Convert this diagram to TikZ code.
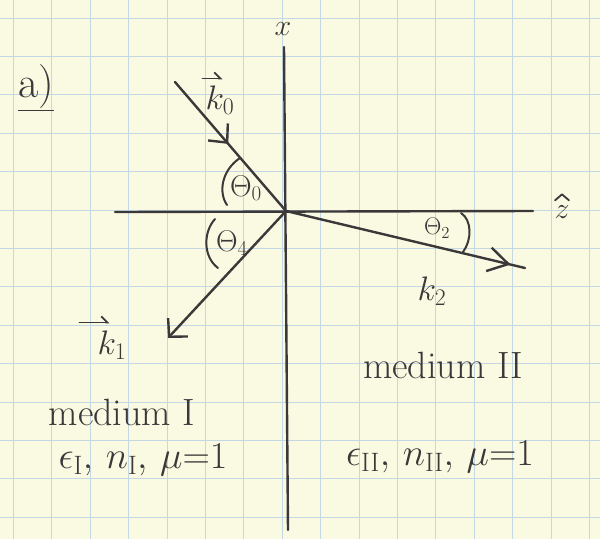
\RequirePackage{fix-cm}
\documentclass[tikz,border=0pt]{standalone}
\usetikzlibrary{arrows.meta,decorations.markings}
\definecolor{paper}{HTML}{FAFAE2}
\definecolor{gridc}{HTML}{C4D7E4}
\definecolor{ink}{HTML}{3A3838}
\begin{document}
\begin{tikzpicture}[x=1pt,y=-1pt,
  axisline/.style={ink, line width=2.4pt, line cap=round},
  ray/.style={ink, line width=2.4pt, line cap=round},
  anglearc/.style={ink, line width=2pt, line cap=round},
  accentpen/.style={ink, line width=1.8pt, line cap=round, line join=round},
  vecarrow/.style={accentpen, -{Straight Barb[harpoon, length=6pt, width=12pt]}},
  lab/.style={text=ink, inner sep=0pt, font=\fontsize{30}{36}\selectfont},
  klab/.style={text=ink, inner sep=0pt, font=\fontsize{34}{40}\selectfont},
  smalllab/.style={text=ink, inner sep=0pt, font=\fontsize{24}{28}\selectfont},
  bigtxt/.style={text=ink, inner sep=0pt, font=\fontsize{38}{44}\selectfont},
  midarrow/.style n args={2}{postaction={decorate}, decoration={markings,
     mark=at position #1 with {\arrow{#2}}}}
]
\fill[paper] (0,0) rectangle (600,539);
\useasboundingbox (0,0) rectangle (600,539);
\foreach \i in {0,...,15} \draw[gridc, line width=1pt] ({13.4+38.4*\i},0) -- ++(0,539);
\foreach \j in {0,...,13} \draw[gridc, line width=1pt] (0,{18+38.4*\j}) -- ++(600,0);

% points
\coordinate (O) at (286,211);
\coordinate (xtop) at (284,47);
\coordinate (xbot) at (288,530);
\coordinate (zleft) at (115,212);
\coordinate (zright) at (533,211);
\coordinate (k0s) at (175,82);
\coordinate (k1e) at (168,338);
\coordinate (k2e) at (525,268);

% axes
\draw[axisline] (xtop) -- (xbot);
\draw[axisline] (zleft) -- (zright);

% rays
\draw[ray, midarrow={0.48}{Straight Barb[length=14pt,width=26pt]}] (k0s) -- (O);
\draw[ray, -{Straight Barb[length=13pt,width=27pt]}] (O) -- (k1e);
\draw[ray, midarrow={0.94}{Straight Barb[length=20pt,width=24pt]}] (O) -- (k2e);

% angle marks
\draw[anglearc] (240,158) .. controls (222,170) and (218,192) .. (227,205);
\draw[anglearc] (215,219) .. controls (203,232) and (203,257) .. (218,268);
\draw[anglearc] (461,213) .. controls (472,220) and (472,240) .. (463,252);

% labels
\node[lab] (xlab) at (283,29) {$x$};
\node[lab] (zlab) at (562,212) {$z$};
\draw[accentpen] ([shift={(-7,-5)}]zlab.north) -- ([shift={(0,-11)}]zlab.north) -- ([shift={(7,-5)}]zlab.north);
\node[klab] (k0lab) at (220,100) {$k_0$};
\draw[vecarrow] ([shift={(-3,-7)}]k0lab.north west) -- ++(20,0);
\node[klab] (k1lab) at (112,345) {$k_1$};
\draw[vecarrow] ([shift={(-18,-8)}]k1lab.north west) -- ++(30,0);
\node[klab] (k2lab) at (432,291) {$k_2$};
\node[lab] (t0lab) at (246,188) {$\Theta_0$};
\node[lab] (t4lab) at (232,243) {$\Theta_4$};
\node[smalllab] (t2lab) at (437,228) {$\Theta_2$};

\node[bigtxt] (m2) at (443,365) {medium II};
\node[bigtxt] (m1) at (122,412) {medium I};
\node[bigtxt] (p1) at (143,460) {$\epsilon_{\mathrm{I}},\, n_{\mathrm{I}},\, \mu{=}1$};
\node[bigtxt] (p2) at (440,457) {$\epsilon_{\mathrm{II}},\, n_{\mathrm{II}},\, \mu{=}1$};
\node[text=ink, inner sep=0pt, font=\fontsize{44}{50}\selectfont] (alab) at (36,88) {\underline{a)}};
\end{tikzpicture}
\end{document}
